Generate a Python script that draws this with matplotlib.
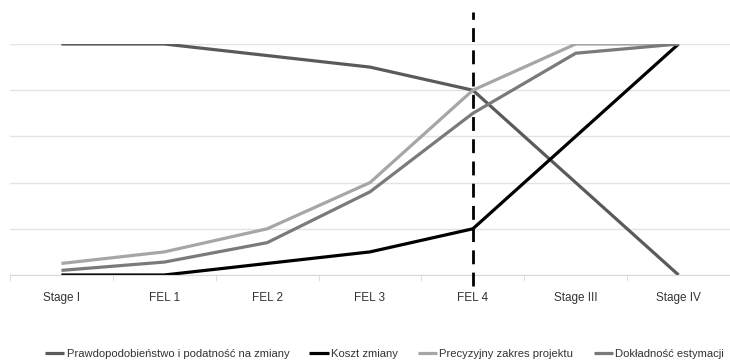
import matplotlib.pyplot as plt
import numpy as np

plt.rcParams['font.family'] = ['Liberation Sans', 'DejaVu Sans']

stages = ["Stage I", "FEL 1", "FEL 2", "FEL 3", "FEL 4", "Stage III", "Stage IV"]
prawdop = [5, 5, 4.75, 4.5, 4, 2, 0]
koszt = [0, 0, 0.25, 0.5, 1, 3, 5]
precyzja = [0.25, 0.5, 1, 2, 4, 5, 5]
dokladnosc = [0.1, 0.28, 0.7, 1.8, 3.5, 4.8, 5]

x = np.arange(len(stages))

fig = plt.figure(figsize=(7.3, 3.63), dpi=100)
ax = fig.add_axes([10/730, 1-275/363, 720/730, (275-44)/363])
ax.set_ylim(0, 5)

ax.plot(x, prawdop, color="#5a5a5a", lw=2.3, label="Prawdopodobieństwo i podatność na zmiany", solid_capstyle="butt")
ax.plot(x, koszt, color="#000000", lw=2.3, label="Koszt zmiany", solid_capstyle="butt")
ax.plot(x, precyzja, color="#a6a6a6", lw=2.3, label="Precyzyjny zakres projektu", solid_capstyle="butt")
ax.plot(x, dokladnosc, color="#7a7a7a", lw=2.3, label="Dokładność estymacji", solid_capstyle="butt")

# dashed marker at FEL 4
ax.plot([4, 4], [-0.24, 5.7], color="black", lw=2, ls=(0, (5, 3)), clip_on=False, zorder=5)

ax.set_xlim(-0.5, 6.42)
ax.set_yticks([0, 1, 2, 3, 4, 5])
ax.yaxis.grid(True, color="#e3e3e3", lw=1)
ax.set_axisbelow(True)
ax.tick_params(axis="y", left=False, labelleft=False)
ax.set_xticks(x)
ax.set_xticklabels(stages, fontsize=8.5, color="#333333")
ax.set_xticks(np.arange(-0.5, 6.6, 1), minor=True)
ax.tick_params(axis="x", which="major", length=0, pad=12)
ax.tick_params(axis="x", which="minor", length=4, color="#d9d9d9")
for s in ["top", "right", "left"]:
    ax.spines[s].set_visible(False)
ax.spines["bottom"].set_color("#d9d9d9")

ax.legend(loc="center", bbox_to_anchor=(0.52, -(354-275)/231), ncol=4, frameon=False,
          fontsize=8.1, handlelength=1.7, handletextpad=0.2, columnspacing=1.8,
          labelcolor="#333333")

fig.savefig("out.png", dpi=100)
